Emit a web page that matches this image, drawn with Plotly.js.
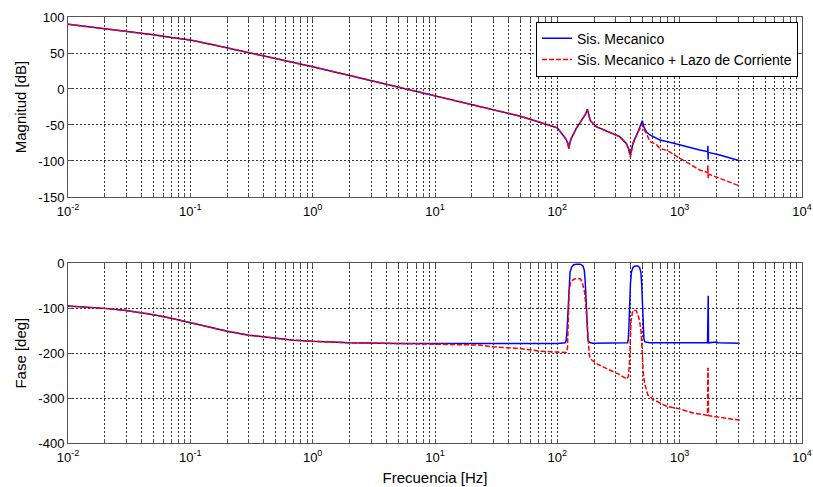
<!DOCTYPE html>
<html>
<head>
<meta charset="utf-8">
<script src="https://cdn.plot.ly/plotly-3.0.1.min.js"></script>
<style>html,body{margin:0;padding:0;background:#fff;}#chart{width:813px;height:487px;}</style>
</head>
<body>
<div id="chart"></div>
<script>
// ---------- DATA ----------
const seriesNames = ['Sis. Mecanico', 'Sis. Mecanico + Lazo de Corriente'];

// Magnitude [dB]
const freqMag = [0.01, 0.02, 0.03, 0.05, 0.07, 0.1, 0.15, 0.2, 0.3, 0.5, 0.7, 1, 2, 5, 10, 23, 49, 72, 92, 100, 111, 118, 122, 124, 127, 130, 143, 162, 170, 176, 180, 186, 208, 251, 323, 366, 385, 395, 405, 415, 456, 480, 495, 510, 534, 571, 645, 688, 802, 1000, 1459, 1690, 1695, 1702, 1708, 1715, 2123, 3093];
const magMec  = [90, 84, 80.5, 75.3, 71.5, 68, 61.8, 57.2, 51, 42.5, 36.7, 30.8, 18.8, 2.9, -9.1, -24.2, -37.5, -46.3, -52.3, -54, -63.9, -70, -75.5, -82.4, -74, -68.5, -54.6, -40.7, -35, -28.2, -36, -44, -52.3, -57.9, -66.2, -75.5, -84, -92, -84, -75.5, -59.3, -50, -44, -53, -59.3, -63.9, -68.5, -70.8, -73.2, -77.8, -84.7, -87, -88, -79, -98, -88, -91.7, -99.6];
const magLazo = [90, 84, 80.5, 75.3, 71.5, 68, 61.8, 57.2, 51, 42.5, 36.7, 30.8, 18.8, 2.9, -9.1, -24.2, -37.5, -46.3, -52.3, -54, -63.9, -70, -75.5, -83, -74, -68.5, -54.6, -40.7, -35, -28.5, -36, -44, -52.3, -57.9, -66.2, -75.5, -86, -95, -85, -76, -60, -53, -49, -56, -61.6, -73, -77, -82.4, -86, -96, -112.5, -116, -117, -106, -124, -118, -124, -134.7];

// Phase [deg]
const freqFaseMec = [0.01, 0.015, 0.02, 0.03, 0.05, 0.07, 0.1, 0.15, 0.2, 0.3, 0.5, 0.7, 1, 2, 5, 10, 23, 100, 116, 118, 120, 122, 124, 127, 131, 136, 145, 155, 162, 166, 169, 172, 175, 178, 183, 194, 375, 380, 385, 390, 396, 403, 415, 430, 455, 470, 482, 490, 496, 503, 510, 520, 571, 1690, 1700, 1712, 1720, 2018, 2050, 3093];
const faseMec = [-95.2, -97.8, -100.3, -105.3, -114.4, -122.5, -132.3, -143.7, -151, -160, -167.6, -171, -173.7, -177, -178.3, -178.5, -178, -178.3, -177, -172, -150, -100, -50, -20, -8, -3, -1.5, -2, -6, -15, -40, -100, -150, -170, -176, -178, -177, -170, -140, -90, -45, -20, -9, -6, -6, -9, -20, -50, -100, -145, -168, -175, -177, -177, -72, -72, -177, -175, -177, -178];

const freqFaseLazo = [0.01, 0.015, 0.02, 0.03, 0.05, 0.07, 0.1, 0.15, 0.2, 0.3, 0.5, 0.7, 1, 2, 5, 10, 23, 30, 49, 72, 100, 118, 121, 123, 125, 128, 135, 145, 155, 162, 167, 171, 175, 178, 182, 185, 208, 251, 323, 371, 380, 388, 395, 400, 410, 420, 440, 456, 470, 484, 495, 503, 517, 534, 551, 571, 605, 778, 1000, 1285, 1690, 1700, 1710, 1720, 2123, 3093];
const faseLazo = [-95.2, -97.8, -100.3, -105.3, -114.4, -122.5, -132.3, -143.7, -151, -160, -167.6, -171, -173.7, -177, -178.5, -179.5, -182, -186, -189.6, -195.5, -197, -198.6, -190, -130, -60, -44, -36, -33.5, -35, -48, -65, -93, -140, -173, -200, -212, -223, -234, -247.6, -258, -252, -227, -160, -130, -110, -104, -105, -115, -128, -152, -200, -241.6, -268, -279, -293.6, -296, -303, -318, -324, -333, -338.5, -234, -234, -339, -342, -349];

// Axis ticks
const xTickVals = [0.01, 0.02, 0.03, 0.04, 0.05, 0.06, 0.07, 0.08, 0.09,
                   0.1, 0.2, 0.3, 0.4, 0.5, 0.6, 0.7, 0.8, 0.9,
                   1, 2, 3, 4, 5, 6, 7, 8, 9,
                   10, 20, 30, 40, 50, 60, 70, 80, 90,
                   100, 200, 300, 400, 500, 600, 700, 800, 900,
                   1000, 2000, 3000, 4000, 5000, 6000, 7000, 8000, 9000, 10000];
const xTickText = ['10<sup>-2</sup>', '', '', '', '', '', '', '', '',
                   '10<sup>-1</sup>', '', '', '', '', '', '', '', '',
                   '10<sup>0</sup>', '', '', '', '', '', '', '', '',
                   '10<sup>1</sup>', '', '', '', '', '', '', '', '',
                   '10<sup>2</sup>', '', '', '', '', '', '', '', '',
                   '10<sup>3</sup>', '', '', '', '', '', '', '', '', '10<sup>4</sup>'];
const magTickVals = [100, 50, 0, -50, -100, -150];
const magTickText = ['100', '50', '0', '-50', '-100', '-150'];
const faseTickVals = [0, -100, -200, -300, -400];
const faseTickText = ['0', '-100', '-200', '-300', '-400'];

// ---------- STYLE ----------
const FONT = 'Liberation Sans, Arial, Helvetica, sans-serif';
const blue = {color: '#0000ff', width: 1.5};
const red = {color: '#ff0000', width: 1.5, dash: '5px,2px'};

const traces = [
  {x: freqMag, y: magMec, type: 'scatter', mode: 'lines', name: seriesNames[0], line: blue, xaxis: 'x', yaxis: 'y'},
  {x: freqMag, y: magLazo, type: 'scatter', mode: 'lines', name: seriesNames[1], line: red, xaxis: 'x', yaxis: 'y'},
  {x: freqFaseMec, y: faseMec, type: 'scatter', mode: 'lines', name: seriesNames[0], line: blue, xaxis: 'x2', yaxis: 'y2', showlegend: false},
  {x: freqFaseLazo, y: faseLazo, type: 'scatter', mode: 'lines', name: seriesNames[1], line: red, xaxis: 'x2', yaxis: 'y2', showlegend: false}
];

function xAxis(anchor) {
  return {
    type: 'log', range: [-2, 4], anchor: anchor,
    tickmode: 'array', tickvals: xTickVals, ticktext: xTickText,
    showgrid: true, gridcolor: '#333', griddash: '2px,2px', gridwidth: 1,
    showline: true, linecolor: '#555', linewidth: 1, mirror: 'ticks',
    ticks: 'inside', ticklen: 4, tickcolor: '#555',
    tickfont: {family: FONT, size: 13, color: '#000'},
    ticklabelstandoff: 2,
    zeroline: false, automargin: false
  };
}
function yAxis(domain, anchor, range, vals, text, title) {
  return {
    domain: domain, anchor: anchor, range: range,
    tickmode: 'array', tickvals: vals, ticktext: text,
    showgrid: true, gridcolor: '#333', griddash: '2px,2px', gridwidth: 1,
    showline: true, linecolor: '#555', linewidth: 1, mirror: 'ticks',
    ticks: 'inside', ticklen: 4, tickcolor: '#555',
    tickfont: {family: FONT, size: 13, color: '#000'},
    zeroline: false, automargin: false,
    title: {text: title, font: {family: FONT, size: 15, color: '#000'}, standoff: 8}
  };
}

const xa1 = xAxis('y');
const xa2 = xAxis('y2');
xa2.title = {text: 'Frecuencia [Hz]', font: {family: FONT, size: 15, color: '#000'}, standoff: 8};

const layout = {
  width: 813, height: 487,
  margin: {l: 68, r: 11, t: 17, b: 44},
  paper_bgcolor: '#ffffff', plot_bgcolor: '#ffffff',
  showlegend: true,
  legend: {
    x: 0.9946, xanchor: 'right', y: 0.989, yanchor: 'top',
    bgcolor: '#ffffff', bordercolor: '#000', borderwidth: 1,
    font: {family: FONT, size: 14, color: '#000'},
    tracegroupgap: 0, itemwidth: 30
  },
  xaxis: xa1,
  yaxis: yAxis([0.5775, 1], 'x', [-150, 100], magTickVals, magTickText, 'Magnitud [dB]'),
  xaxis2: xa2,
  yaxis2: yAxis([0, 0.4218], 'x2', [-400, 0], faseTickVals, faseTickText, 'Fase [deg]')
};

Plotly.newPlot('chart', traces, layout, {staticPlot: true, displayModeBar: false});
</script>
</body>
</html>
